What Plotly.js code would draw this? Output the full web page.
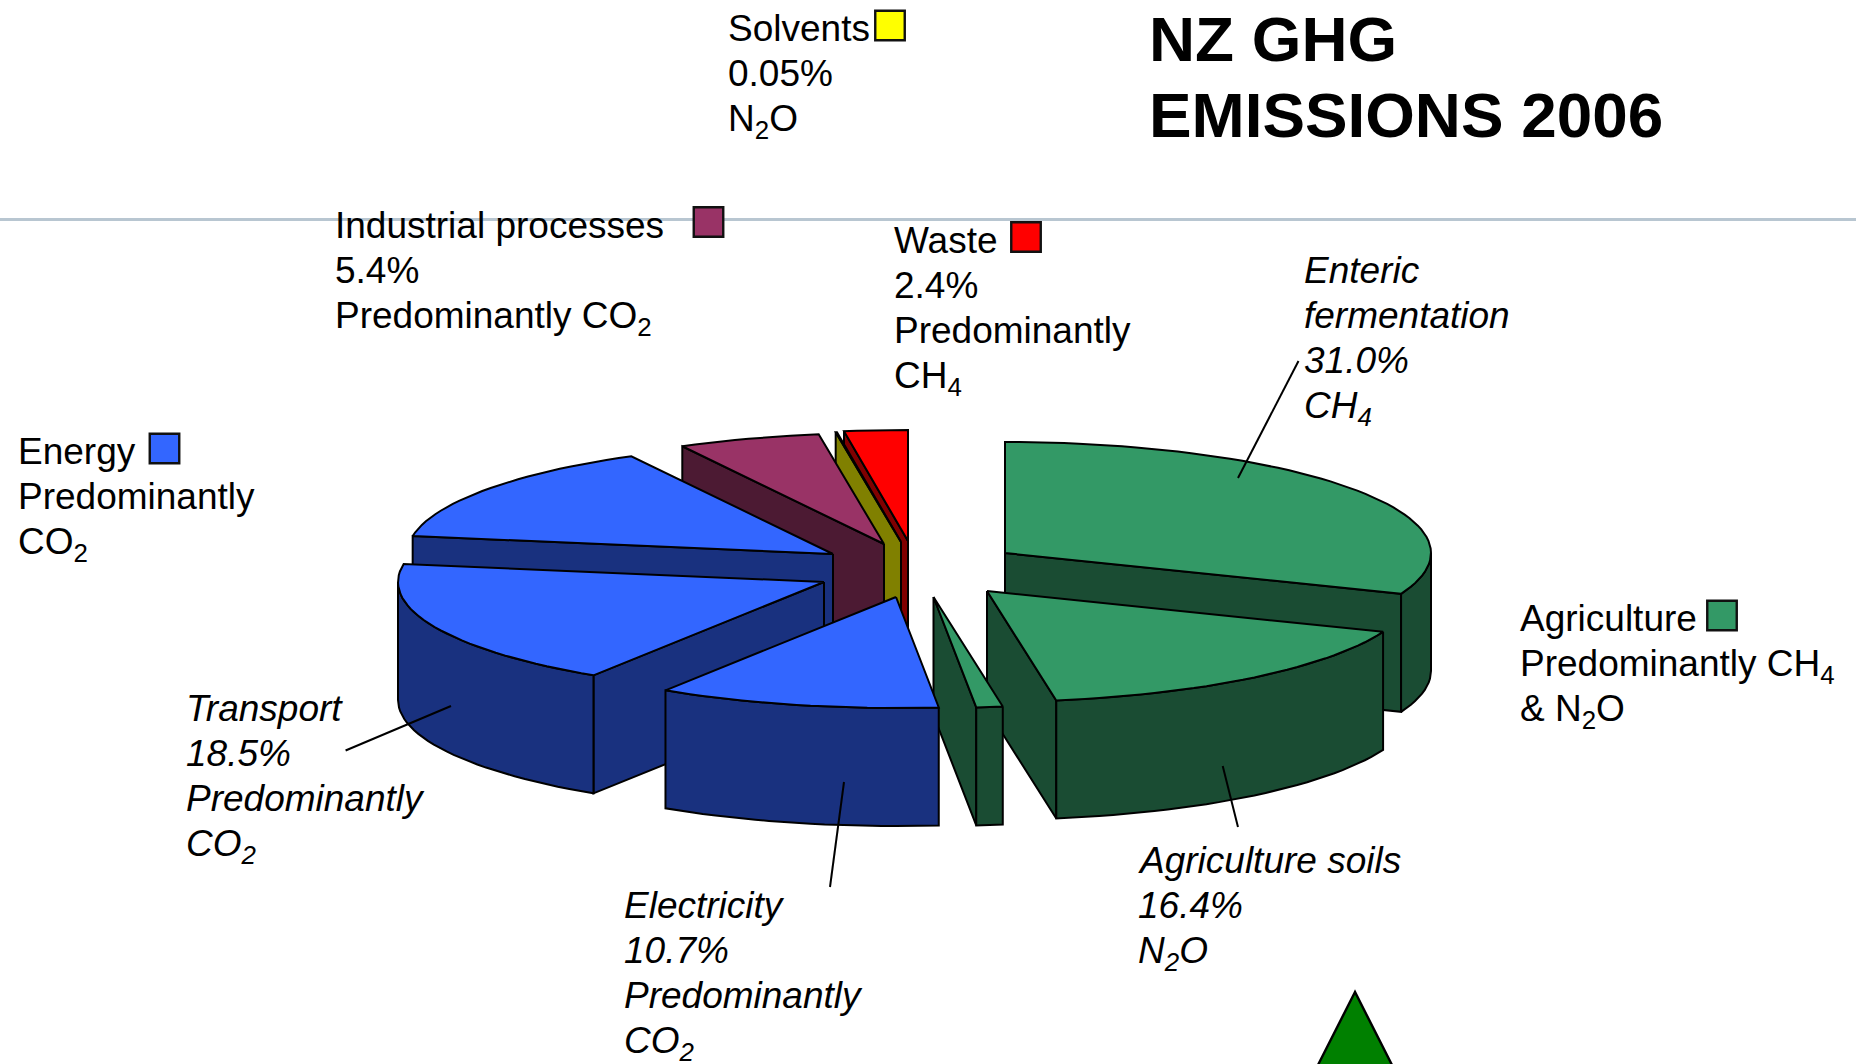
<!DOCTYPE html>
<html>
<head>
<meta charset="utf-8">
<style>html,body{margin:0;padding:0;background:#fff}#chart{width:1856px;height:1064px}</style>
<script src="https://cdn.plot.ly/plotly-3.0.1.min.js"></script>
</head>
<body>
<div id="chart"></div>
<script>
// Data: clockwise from 12 o'clock
const categories = ["Enteric fermentation","Agriculture soils","Other agriculture","Electricity","Transport","Other energy","Industrial processes","Solvents","Waste"];
const shares = [31.0,16.4,1.0,10.7,18.5,14.55,5.4,0.05,2.4];
const topColors = ["#339966","#339966","#339966","#3366FF","#3366FF","#3366FF","#993366","#FFFF00","#FF0000"];
const wallColors = ["#1A4C33","#1A4C33","#1A4C33","#19317F","#19317F","#19317F","#4C1A33","#808000","#800000"];

// Exploded position of each slice's tip, in page pixels (axis units)
const tipX = [1005,987,933.5,896,824,833,884,901,908];
const tipY = [553,591,597,597,582,554,544,542,541];
const drawOrder = [8,7,6,5,4,0,1,2,3];
const radiusX = 426, radiusY = 111, depth = 118;

// Labels
const labelBlocks = [
  {x:1302.5, y:270, italic:true,  lines:["Enteric","fermentation","31.0%","CH<sub>4</sub>"]},
  {x:1136.5, y:860, italic:true,  lines:["Agriculture soils","16.4%","N<sub>2</sub>O"]},
  {x:622.5,  y:905, italic:true,  lines:["Electricity","10.7%","Predominantly","CO<sub>2</sub>"]},
  {x:184.5,  y:708, italic:true,  lines:["Transport","18.5%","Predominantly","CO<sub>2</sub>"]},
  {x:333.5,  y:225, italic:false, lines:["Industrial processes","5.4%","Predominantly CO<sub>2</sub>"]},
  {x:726.5,  y:28,  italic:false, lines:["Solvents","0.05%","N<sub>2</sub>O"]},
  {x:892.5,  y:240, italic:false, lines:["Waste","2.4%","Predominantly","CH<sub>4</sub>"]},
  {x:16.5,   y:451, italic:false, lines:["Energy","Predominantly","CO<sub>2</sub>"]},
  {x:1518.5, y:618, italic:false, lines:["Agriculture","Predominantly CH<sub>4</sub>","&amp; N<sub>2</sub>O"]}
];
const titleLines = ["NZ GHG","EMISSIONS 2006"];
const swatchX = [890,708.5,1026,164.5,1722];
const swatchY = [25.5,222,237,448.5,615.5];
const swatchColors = ["#FFFF00","#993366","#FF0000","#3366FF","#339966"];
const leaderX = [[1298.5,1238],[1222.7,1238],[844,830],[451,345.6]];
const leaderY = [[361,478],[766,827],[782,887],[706,750.5]];

const lineStyle = {color:"#000000", width:2};
const traces = [];
function poly(xs, ys, fill, name){
  traces.push({type:"scatter", mode:"lines", x:xs.concat(xs[0]), y:ys.concat(ys[0]),
    fill:"toself", fillcolor:fill, line:lineStyle, hoverinfo:"text", text:name, showlegend:false});
}
const rimX = (i,t)=>tipX[i]+radiusX*Math.sin(t);
const rimY = (i,t)=>tipY[i]-radiusY*Math.cos(t);

let cum = 0;
const starts = shares.map(v=>{const s=cum; cum+=v; return s;});
const D2R = Math.PI/180;
function sweep(a,b){
  const out=[]; const n=Math.max(2,Math.ceil((b-a)/2));
  for(let k=0;k<=n;k++) out.push((a+(b-a)*k/n)*D2R);
  return out;
}
drawOrder.forEach(i=>{
  const a = starts[i]*3.6, b = (starts[i]+shares[i])*3.6;
  const name = categories[i];
  const ta = a*D2R, tb = b*D2R;
  // start cut face
  if(Math.sin(ta) < -1e-6){
    poly([tipX[i],rimX(i,ta),rimX(i,ta),tipX[i]],
         [tipY[i],rimY(i,ta),rimY(i,ta)+depth,tipY[i]+depth], wallColors[i], name);
  }
  // end cut face
  if(Math.sin(tb) > 1e-6){
    poly([tipX[i],rimX(i,tb),rimX(i,tb),tipX[i]],
         [tipY[i],rimY(i,tb),rimY(i,tb)+depth,tipY[i]+depth], wallColors[i], name);
  }
  // outer rim, front half only
  const fa = Math.max(a,90), fb = Math.min(b,270);
  if(fb>fa){
    const ts = sweep(fa,fb);
    const xs = ts.map(t=>rimX(i,t)), ysT = ts.map(t=>rimY(i,t)), ysB = ysT.map(y=>y+depth);
    poly(xs.concat(xs.slice().reverse()), ysT.concat(ysB.slice().reverse()), wallColors[i], name);
  }
  // top face
  const ts = sweep(a,b);
  poly([tipX[i]].concat(ts.map(t=>rimX(i,t))), [tipY[i]].concat(ts.map(t=>rimY(i,t))), topColors[i], name);
});

leaderX.forEach((xs,k)=>traces.push({type:"scatter",mode:"lines",x:xs,y:leaderY[k],
  line:{color:"#000",width:2},hoverinfo:"skip",showlegend:false}));
traces.push({type:"scatter",mode:"markers",x:swatchX,y:swatchY,hoverinfo:"skip",showlegend:false,
  marker:{symbol:"square",size:29.5,color:swatchColors,line:{color:"#111",width:2.4}}});

const FONT = "Liberation Sans, Arial, sans-serif";
const annotations = [];
const PITCH = 45, SIZE = 37;
labelBlocks.forEach(b=>{
  b.lines.forEach((ln,k)=>annotations.push({
    xref:"x",yref:"y",x:b.x,y:b.y+k*PITCH,xanchor:"left",yanchor:"top",yshift:21,
    showarrow:false,borderpad:0,align:"left",
    text:b.italic?"<i>"+ln+"</i>":ln,font:{family:FONT,size:SIZE,color:"#000"}
  }));
});
titleLines.forEach((t,k)=>annotations.push({
  xref:"x",yref:"y",x:1147.5,y:39+k*76,xanchor:"left",yanchor:"middle",showarrow:false,borderpad:0,
  text:"<b>"+t+"</b>",font:{family:FONT,size:63.8,color:"#000"}
}));

const layout = {
  width:1856,height:1064,margin:{l:0,r:0,t:0,b:0},
  paper_bgcolor:"#fff",plot_bgcolor:"#fff",showlegend:false,
  xaxis:{range:[0,1856],visible:false,fixedrange:true},
  yaxis:{range:[1064,0],visible:false,fixedrange:true},
  shapes:[
    {type:"line",xref:"x",yref:"y",x0:0,x1:1856,y0:219.5,y1:219.5,layer:"below",line:{color:"#B8C6D1",width:3}},
    {type:"path",xref:"x",yref:"y",path:"M1355,992 L1282,1136 L1428,1136 Z",fillcolor:"#008000",line:{color:"#000",width:2.4},layer:"below"}
  ],
  annotations
};
Plotly.newPlot("chart",traces,layout,{displayModeBar:false,staticPlot:true});
</script>
</body>
</html>
